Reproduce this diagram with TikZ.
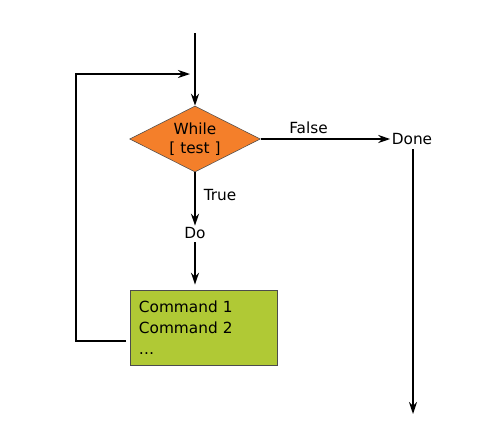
\documentclass[tikz,border=0pt]{standalone}
\usepackage{fontspec}
\setmainfont{DejaVu Sans}
\usetikzlibrary{shapes.geometric,arrows.meta}
\definecolor{testorange}{HTML}{F47F2A}
\definecolor{cmdgreen}{HTML}{B0C935}
\tikzset{
  flow/.style={line width=1.2pt,-{Stealth[length=9pt,width=6pt]}},
  label/.style={inner sep=1pt,font=\fontsize{11.5}{14}\selectfont},
  test/.style={diamond,draw=black!70,fill=testorange,line width=0.4pt,
    aspect=2,minimum width=98pt,minimum height=49.5pt,inner sep=0pt,align=center,
    font=\fontsize{11.5}{14}\selectfont},
  cmdbox/.style={rectangle,draw=black!70,fill=cmdgreen,line width=0.4pt,
    minimum width=110pt,minimum height=56pt,inner sep=6.5pt,align=left,
    anchor=north west,font=\fontsize{11.5}{15.5}\selectfont},
}
\begin{document}
\begin{tikzpicture}[x=0.75pt,y=-0.75pt]
      \useasboundingbox (0,0) rectangle (500,440);
      \node[test] (while) at (195,139) {While\\{[} test {]}};
      \node[label] (done) at (412,139) {Done};
      \node[label] (do) at (195,233) {Do};
      \node[cmdbox,text width=97pt] (cmds) at (130,290) {Command 1\\Command 2\\\dots};
      \coordinate (start) at (195,33);
      \coordinate (finish) at (413,414);
      \coordinate (back) at (126,341);
      \coordinate (join) at (190,74);
      \draw[flow] (start) -- (while.north);
      \draw[flow] (while.east) -- node[label,above=2pt,pos=0.37] {False} (done.west);
      \draw[flow] (done.south) ++(1,3) -- (finish);
      \draw[flow] (while.south) -- node[label,right=5pt,pos=0.42] {True} (do.north);
      \draw[flow,shorten >=4pt] (do.south) ++(0,2) -- (cmds.north -| do);
      \draw[flow] (back) -- (76,341) |- (join);
    \end{tikzpicture}
\end{document}
